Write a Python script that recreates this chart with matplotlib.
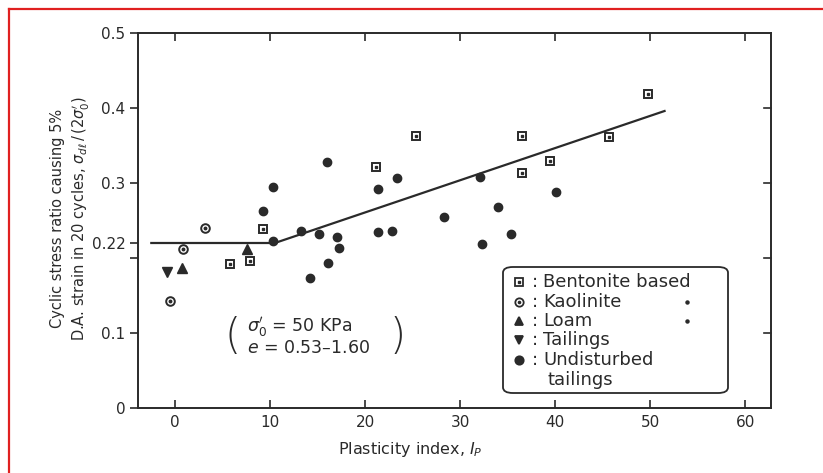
import matplotlib
matplotlib.use("Agg")
import matplotlib.pyplot as plt
from matplotlib.patches import FancyBboxPatch
from matplotlib.lines import Line2D

# ---- data: cyclic stress ratio vs plasticity index ----
bent_ip = [5.8, 7.9, 9.3, 21.1, 25.4, 36.5, 36.5, 39.4, 45.7, 49.8]
bent_csr = [0.192, 0.196, 0.239, 0.321, 0.363, 0.363, 0.313, 0.329, 0.361, 0.419]

kaol_ip = [-0.5, 0.8, 3.2]
kaol_csr = [0.143, 0.212, 0.240]

loam_ip = [0.7, 7.6]
loam_csr = [0.187, 0.212]

tail_ip = [-0.9]
tail_csr = [0.181]

und_ip = [9.3, 10.3, 10.3, 13.2, 14.2, 15.1, 16.0, 16.1, 17.0, 17.3,
          21.3, 21.3, 22.8, 23.3, 28.3, 32.1, 32.3, 34.0, 35.3, 40.1]
und_csr = [0.263, 0.295, 0.223, 0.236, 0.173, 0.232, 0.328, 0.193, 0.228, 0.213,
           0.292, 0.235, 0.236, 0.307, 0.255, 0.308, 0.219, 0.268, 0.232, 0.288]

trend_ip = [-2.5, 10.5, 51.5]
trend_csr = [0.22, 0.22, 0.396]

x_ticks = [0, 10, 20, 30, 40, 50, 60]
y_ticks = [0, 0.1, 0.2, 0.22, 0.3, 0.4, 0.5]
y_ticklabels = ["0", "0.1", "", "0.22", "0.3", "0.4", "0.5"]

INK = "#2a2a2a"
W, H = 823, 473

plt.rcParams["font.family"] = ["DejaVu Sans"]
fig = plt.figure(figsize=(W / 100, H / 100), dpi=100)
fig.patch.set_facecolor("white")


def fx(px):
    return px / W


def fy(py):
    return 1 - py / H


ax = fig.add_axes([fx(138), fy(408), fx(771) - fx(138), fy(33) - fy(408)])
ax.set_xlim(-3.9, 62.7)
ax.set_ylim(0, 0.5)

for s in ax.spines.values():
    s.set_color(INK)
    s.set_linewidth(1.4)

ax.set_xticks(x_ticks)
ax.set_yticks(y_ticks)
ax.set_yticklabels(y_ticklabels)
ax.tick_params(axis="x", direction="in", top=True, length=6, width=1.2,
               colors=INK, labelsize=11, pad=5)
ax.tick_params(axis="y", direction="out", length=6, width=1.2,
               colors=INK, labelsize=11, pad=3)

# inward ticks on the right spine (no 0.22 there)
for yv in [0.1, 0.2, 0.3, 0.4]:
    ax.plot([62.7 - 0.75, 62.7], [yv, yv], color=INK, lw=1.2, clip_on=False)

# trend line
ax.plot(trend_ip, trend_csr, color=INK, lw=1.6, zorder=2)

# markers
ms = 6.2
ax.plot(bent_ip, bent_csr, ls="none", marker="s", ms=ms, mfc="white",
        mec=INK, mew=1.4, zorder=3)
ax.plot(bent_ip, bent_csr, ls="none", marker="s", ms=1.8, mfc=INK,
        mec=INK, zorder=4)
ax.plot(kaol_ip, kaol_csr, ls="none", marker="o", ms=ms, mfc="white",
        mec=INK, mew=1.4, zorder=3)
ax.plot(kaol_ip, kaol_csr, ls="none", marker="o", ms=1.8, mfc=INK,
        mec=INK, zorder=4)
ax.plot(loam_ip, loam_csr, ls="none", marker="^", ms=7, mfc=INK,
        mec=INK, zorder=3)
ax.plot(tail_ip, tail_csr, ls="none", marker="v", ms=7, mfc=INK,
        mec=INK, zorder=3)
ax.plot(und_ip, und_csr, ls="none", marker="o", ms=6, mfc=INK,
        mec=INK, zorder=3)

# axis labels
ax.set_xlabel(r"Plasticity index, $I_P$", fontsize=11.5, color=INK)
ax.xaxis.set_label_coords((410 - 138) / (771 - 138), -0.085)
fig.text(fx(71), fy(218),
         "Cyclic stress ratio causing 5%\n"
         r"D.A. strain in 20 cycles, $\sigma_{d\ell}\,/\,(2\sigma_0')$",
         rotation=90, ha="center", va="center", fontsize=10.5,
         color=INK, linespacing=1.4)

# test conditions note
fig.text(fx(233), fy(337), "(", fontsize=30, color=INK, ha="center",
         va="center", fontweight="light")
fig.text(fx(398), fy(337), ")", fontsize=30, color=INK, ha="center",
         va="center", fontweight="light")
fig.text(fx(247), fy(327), r"$\sigma_0'$ = 50 KPa", fontsize=12.5,
         color=INK, ha="left", va="center")
fig.text(fx(247), fy(348), r"$e$ = 0.53–1.60", fontsize=12.5,
         color=INK, ha="left", va="center")

# legend box drawn by hand in "marker : label" style
box = FancyBboxPatch((fx(503), fy(393)), fx(728) - fx(503), fy(267) - fy(393),
                     boxstyle="round,pad=0,rounding_size=0.012",
                     transform=fig.transFigure, facecolor="white",
                     edgecolor=INK, lw=1.3)
fig.patches.append(box)

entries = [
    ("s", "white", "Bentonite based", 282),
    ("o", "white", "Kaolinite", 302),
    ("^", INK, "Loam", 321),
    ("v", INK, "Tailings", 340),
    ("o", INK, "Undisturbed", 360),
]
for mk, fc, label, py in entries:
    fig.add_artist(Line2D([fx(519)], [fy(py)], marker=mk, ms=6, mfc=fc,
                          mec=INK, mew=1.3, ls="none",
                          transform=fig.transFigure))
    if fc == "white":
        fig.add_artist(Line2D([fx(519)], [fy(py)], marker=mk, ms=1.6,
                              mfc=INK, mec=INK, ls="none",
                              transform=fig.transFigure))
    fig.text(fx(532), fy(py), ":", fontsize=13, color=INK, va="center")
    fig.text(fx(543), fy(py), label, fontsize=13, color=INK, va="center")
fig.text(fx(548), fy(380), "tailings", fontsize=13, color=INK, va="center")
for py in [302, 321]:
    fig.add_artist(Line2D([fx(687)], [fy(py)], marker="o", ms=2.2, mfc=INK,
                          mec=INK, ls="none", transform=fig.transFigure))

# red frame along top and left edges
fig.add_artist(Line2D([fx(9), 1], [fy(9), fy(9)], color="#e02020", lw=1.6,
                      transform=fig.transFigure))
fig.add_artist(Line2D([fx(9), fx(9)], [fy(9), 0], color="#e02020", lw=1.6,
                      transform=fig.transFigure))

fig.savefig("out.png", dpi=100, facecolor="white")
